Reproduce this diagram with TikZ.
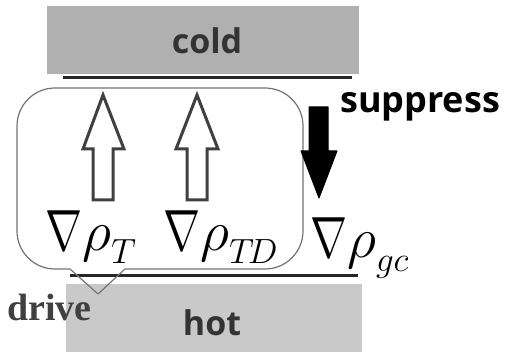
\RequirePackage{fix-cm}
\documentclass[tikz,border=0pt]{standalone}
\usepackage{fontspec}
\newfontfamily\labsans{Open Sans}
\newfontfamily\labserif{Liberation Serif}
\begin{document}
\begin{tikzpicture}[x=1pt,y=-1pt,
  plate/.style={draw=none,inner sep=0pt,anchor=north west},
  wall/.style={line width=3pt,draw=black!85},
  callout/.style={draw=black!55,line width=1.2pt},
  hollowarrow/.style={draw=black!75,line width=3pt,fill=white,line join=miter},
  solidarrow/.style={fill=black,draw=black,line width=1pt,line join=round},
  platetext/.style={font=\labsans\bfseries\fontsize{34}{40}\selectfont,text=black!80,inner sep=0pt,anchor=base},
  mathlab/.style={font=\fontsize{57}{62}\selectfont,inner sep=0pt,anchor=base west},
]
\useasboundingbox (0,0) rectangle (505,355);
% plates
\node[plate,fill=black!31,minimum width=312pt,minimum height=68pt] (coldbox) at (47,6) {};
\node[plate,fill=black!21,minimum width=296pt,minimum height=68pt] (hotbox) at (66,284) {};
\node[platetext] (cold) at (207,54) {cold};
\node[platetext] (hot) at (212,335) {hot};
% walls
\coordinate (cw1) at (63,78); \coordinate (cw2) at (352,78);
\coordinate (hw1) at (70,275); \coordinate (hw2) at (358,275);
\draw[wall] (cw1) -- (cw2);
\draw[wall] (hw1) -- (hw2);
% callout
\coordinate (p1) at (125,269); \coordinate (p2) at (70,269); \coordinate (ptip) at (98,294);
\draw[callout,rounded corners=38pt] (p1) -- (303,269) -- (303,88) -- (17,88) -- (17,269) -- (p2);
\draw[callout,line join=round] (p2) -- (ptip) -- (p1);
% hollow arrows
\draw[hollowarrow] (93,200) -- (93,149) -- (83,149) -- (103,95) -- (124,149) -- (113,149) -- (113,200) -- cycle;
\draw[hollowarrow] (187,200) -- (187,149) -- (176,149) -- (197,95) -- (218,149) -- (207,149) -- (207,200) -- cycle;
% solid arrow
\draw[solidarrow] (309,107) -- (309,151) -- (301,151) -- (319,198) -- (337,151) -- (328,151) -- (328,107) -- cycle;
% labels
\node[mathlab] (gT) at (45,250) {$\scalebox{0.78}[1.02]{$\nabla$}\rho_{\raisebox{-5pt}{\fontsize{35}{36}\selectfont$T$}}$};
\node[mathlab] (gTD) at (163,250) {$\scalebox{0.78}[1.02]{$\nabla$}\rho_{\raisebox{-5pt}{\fontsize{35}{36}\selectfont$T\!D$}}$};
\node[mathlab] (ggc) at (310,257) {$\scalebox{0.78}[1.02]{$\nabla$}\rho_{\raisebox{-6pt}{\fontsize{35}{36}\selectfont$gc$}}$};
\node[font=\labsans\bfseries\fontsize{36}{40}\selectfont,inner sep=0pt,anchor=base west] (supp) at (340,113) {suppress};
\node[font=\labserif\bfseries\fontsize{38}{40}\selectfont,text=black!75,inner sep=0pt,anchor=base west] (drive) at (7,320) {drive};
\end{tikzpicture}
\end{document}
